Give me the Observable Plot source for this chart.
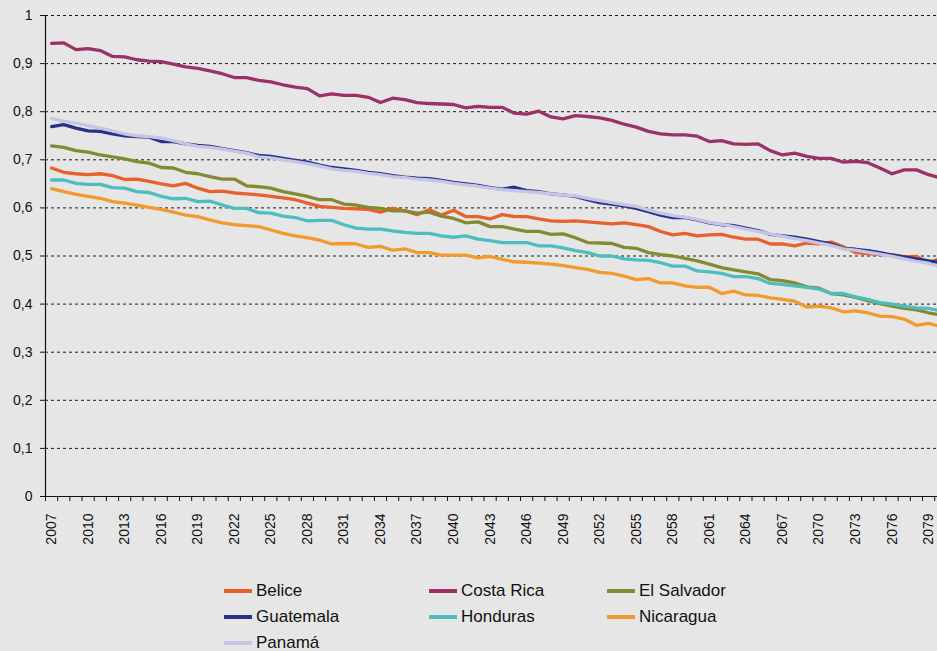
<!DOCTYPE html>
<html>
<head>
<meta charset="utf-8">
<script src="https://cdn.jsdelivr.net/npm/d3@7"></script>
<script src="https://cdn.jsdelivr.net/npm/@observablehq/plot@0.6"></script>
<style>
  html, body { margin: 0; padding: 0; background: #e6e6e6; }
  #wrap { position: relative; width: 937px; height: 651px; overflow: hidden; background: #e6e6e6;
          font-family: "Liberation Sans", Arial, Helvetica, sans-serif; color: #111; }
  #legend { position: absolute; left: 224px; top: 578px; display: grid;
            grid-template-columns: 205px 178px 200px; grid-auto-rows: 26px; }
  .item { display: flex; align-items: center; font-size: 17px; line-height: 26px; white-space: nowrap; }
  .sw { width: 28px; height: 4px; margin-right: 4px; }
</style>
</head>
<body>
<div id="wrap"><div id="chart"></div><div id="legend"></div></div>
<script>
const years = d3.range(2007, 2081);
const countries = ["Belice", "Costa Rica", "El Salvador", "Guatemala", "Honduras", "Nicaragua", "Panamá"];
const colors = ["#e8602c", "#9c3166", "#858a32", "#26318a", "#4dbdbd", "#f29a2e", "#c6c5e5"];
const yTicks = [0, 0.1, 0.2, 0.3, 0.4, 0.5, 0.6, 0.7, 0.8, 0.9, 1];
const labelYears = [2007, 2010, 2013, 2016, 2019, 2022, 2025, 2028, 2031, 2034, 2037, 2040, 2043, 2046, 2049, 2052, 2055, 2058, 2061, 2064, 2067, 2070, 2073, 2076, 2079];

const belice = [
  0.683, 0.674, 0.671, 0.669, 0.671, 0.667, 0.659, 0.660, 0.655, 0.650,
  0.646, 0.651, 0.641, 0.634, 0.635, 0.631, 0.629, 0.627, 0.624, 0.621,
  0.617, 0.610, 0.603, 0.601, 0.599, 0.598, 0.597, 0.591, 0.599, 0.594,
  0.586, 0.596, 0.585, 0.595, 0.582, 0.582, 0.577, 0.586, 0.582, 0.582,
  0.577, 0.573, 0.572, 0.573, 0.571, 0.569, 0.567, 0.569, 0.565, 0.561,
  0.551, 0.544, 0.547, 0.542, 0.544, 0.545, 0.539, 0.535, 0.535, 0.525,
  0.525, 0.521, 0.527, 0.525, 0.529, 0.519, 0.507, 0.505, 0.503, 0.503,
  0.498, 0.499, 0.486, 0.495];
const costaRica = [
  0.942, 0.943, 0.929, 0.931, 0.927, 0.915, 0.914, 0.908, 0.905, 0.904,
  0.899, 0.893, 0.890, 0.885, 0.879, 0.871, 0.871, 0.865, 0.862, 0.856,
  0.851, 0.848, 0.833, 0.837, 0.834, 0.834, 0.830, 0.819, 0.828, 0.825,
  0.819, 0.817, 0.816, 0.815, 0.808, 0.811, 0.809, 0.809, 0.797, 0.795,
  0.801, 0.789, 0.785, 0.792, 0.790, 0.787, 0.782, 0.774, 0.768, 0.759,
  0.754, 0.752, 0.752, 0.749, 0.738, 0.740, 0.733, 0.732, 0.733, 0.719,
  0.710, 0.714, 0.707, 0.703, 0.703, 0.695, 0.697, 0.694, 0.683, 0.671,
  0.679, 0.679, 0.669, 0.662];
const elSalvador = [
  0.729, 0.726, 0.719, 0.716, 0.710, 0.706, 0.702, 0.696, 0.693, 0.684,
  0.683, 0.674, 0.671, 0.665, 0.660, 0.660, 0.646, 0.644, 0.641, 0.634,
  0.629, 0.624, 0.617, 0.617, 0.608, 0.606, 0.601, 0.599, 0.594, 0.594,
  0.589, 0.591, 0.583, 0.578, 0.569, 0.571, 0.561, 0.561, 0.556, 0.551,
  0.551, 0.545, 0.546, 0.538, 0.528, 0.527, 0.526, 0.518, 0.516, 0.507,
  0.503, 0.500, 0.495, 0.490, 0.483, 0.476, 0.471, 0.467, 0.463, 0.451,
  0.449, 0.444, 0.436, 0.433, 0.422, 0.419, 0.414, 0.407, 0.401, 0.396,
  0.391, 0.388, 0.382, 0.377];
const guatemala = [
  0.769, 0.773, 0.766, 0.760, 0.759, 0.754, 0.750, 0.748, 0.747, 0.738,
  0.738, 0.733, 0.730, 0.728, 0.723, 0.719, 0.715, 0.709, 0.707, 0.703,
  0.699, 0.695, 0.689, 0.684, 0.681, 0.678, 0.674, 0.671, 0.667, 0.664,
  0.662, 0.661, 0.657, 0.653, 0.650, 0.647, 0.642, 0.639, 0.643, 0.636,
  0.634, 0.629, 0.627, 0.624, 0.617, 0.611, 0.608, 0.604, 0.599, 0.592,
  0.585, 0.580, 0.580, 0.575, 0.569, 0.565, 0.563, 0.558, 0.553, 0.545,
  0.542, 0.539, 0.535, 0.530, 0.525, 0.516, 0.514, 0.511, 0.507, 0.502,
  0.498, 0.494, 0.490, 0.486];
const honduras = [
  0.658, 0.658, 0.651, 0.649, 0.649, 0.642, 0.641, 0.634, 0.632, 0.624,
  0.619, 0.620, 0.613, 0.614, 0.606, 0.599, 0.599, 0.590, 0.589, 0.583,
  0.580, 0.573, 0.574, 0.574, 0.565, 0.558, 0.556, 0.556, 0.552, 0.549,
  0.547, 0.547, 0.542, 0.539, 0.542, 0.535, 0.532, 0.528, 0.528, 0.528,
  0.521, 0.521, 0.517, 0.511, 0.507, 0.500, 0.500, 0.494, 0.492, 0.491,
  0.486, 0.479, 0.479, 0.469, 0.467, 0.464, 0.457, 0.457, 0.453, 0.443,
  0.441, 0.438, 0.435, 0.431, 0.422, 0.422, 0.415, 0.410, 0.403, 0.400,
  0.396, 0.392, 0.391, 0.386];
const nicaragua = [
  0.640, 0.634, 0.628, 0.624, 0.620, 0.613, 0.610, 0.606, 0.601, 0.597,
  0.591, 0.585, 0.582, 0.575, 0.569, 0.565, 0.563, 0.561, 0.554, 0.547,
  0.542, 0.538, 0.533, 0.525, 0.526, 0.525, 0.518, 0.520, 0.512, 0.515,
  0.507, 0.507, 0.502, 0.502, 0.502, 0.496, 0.499, 0.493, 0.488, 0.487,
  0.485, 0.483, 0.480, 0.476, 0.472, 0.466, 0.464, 0.458, 0.451, 0.453,
  0.444, 0.444, 0.438, 0.435, 0.435, 0.422, 0.427, 0.419, 0.418, 0.413,
  0.410, 0.406, 0.394, 0.396, 0.392, 0.384, 0.386, 0.382, 0.375, 0.374,
  0.369, 0.356, 0.360, 0.353];
const panama = [
  0.786, 0.780, 0.776, 0.771, 0.766, 0.760, 0.754, 0.750, 0.748, 0.745,
  0.740, 0.733, 0.728, 0.726, 0.722, 0.718, 0.714, 0.706, 0.704, 0.700,
  0.696, 0.692, 0.687, 0.681, 0.678, 0.676, 0.672, 0.669, 0.665, 0.663,
  0.660, 0.658, 0.655, 0.651, 0.648, 0.645, 0.641, 0.638, 0.636, 0.634,
  0.632, 0.629, 0.627, 0.625, 0.620, 0.615, 0.611, 0.607, 0.603, 0.596,
  0.589, 0.584, 0.581, 0.576, 0.570, 0.566, 0.561, 0.556, 0.551, 0.546,
  0.541, 0.536, 0.532, 0.527, 0.522, 0.515, 0.512, 0.508, 0.504, 0.499,
  0.494, 0.489, 0.485, 0.477];

const series = [belice, costaRica, elSalvador, guatemala, honduras, nicaragua, panama];
const data = countries.flatMap((c, i) => series[i].map((v, j) => ({country: c, year: years[j], value: v})));
const boundaries = years.map(y => y - 0.5);

const chart = Plot.plot({
  width: 937,
  height: 560,
  marginLeft: 45,
  marginRight: 0,
  marginTop: 15,
  marginBottom: 64,
  style: {background: "transparent", fontFamily: "'Liberation Sans', Arial, Helvetica, sans-serif", fontSize: "14px", color: "#111", overflow: "visible"},
  x: {type: "linear", domain: [2006.5, 2079.73], axis: null},
  y: {domain: [0, 1], axis: null},
  color: {domain: countries, range: colors},
  marks: [
    Plot.gridY(yTicks.filter(d => d > 0), {stroke: "#1a1a1a", strokeOpacity: 1, strokeDasharray: "3,3", strokeWidth: 1}),
    Plot.axisY({ticks: yTicks, label: null, tickSize: 5, tickPadding: 8, tickFormat: d => String(d).replace(".", ","), stroke: "#111", fill: "#111"}),
    Plot.axisX({ticks: boundaries, label: null, tickSize: 5, tickFormat: () => "", stroke: "#111"}),
    Plot.axisX({ticks: labelYears, label: null, tickSize: 0, tickPadding: 17, tickRotate: -90, tickFormat: d => String(d), fill: "#111"}),
    Plot.line(data, {x: "year", y: "value", z: "country", stroke: "country", strokeWidth: 3.3, clip: true}),
    Plot.ruleX([2006.5], {stroke: "#111", strokeWidth: 1.2}),
    Plot.ruleY([0], {stroke: "#111", strokeWidth: 1.2})
  ]
});
document.getElementById("chart").appendChild(chart);

const legend = document.getElementById("legend");
countries.forEach((c, i) => {
  const item = document.createElement("div");
  item.className = "item";
  const sw = document.createElement("span");
  sw.className = "sw";
  sw.style.background = colors[i];
  const t = document.createElement("span");
  t.textContent = c;
  item.appendChild(sw);
  item.appendChild(t);
  legend.appendChild(item);
});
</script>
</body>
</html>
